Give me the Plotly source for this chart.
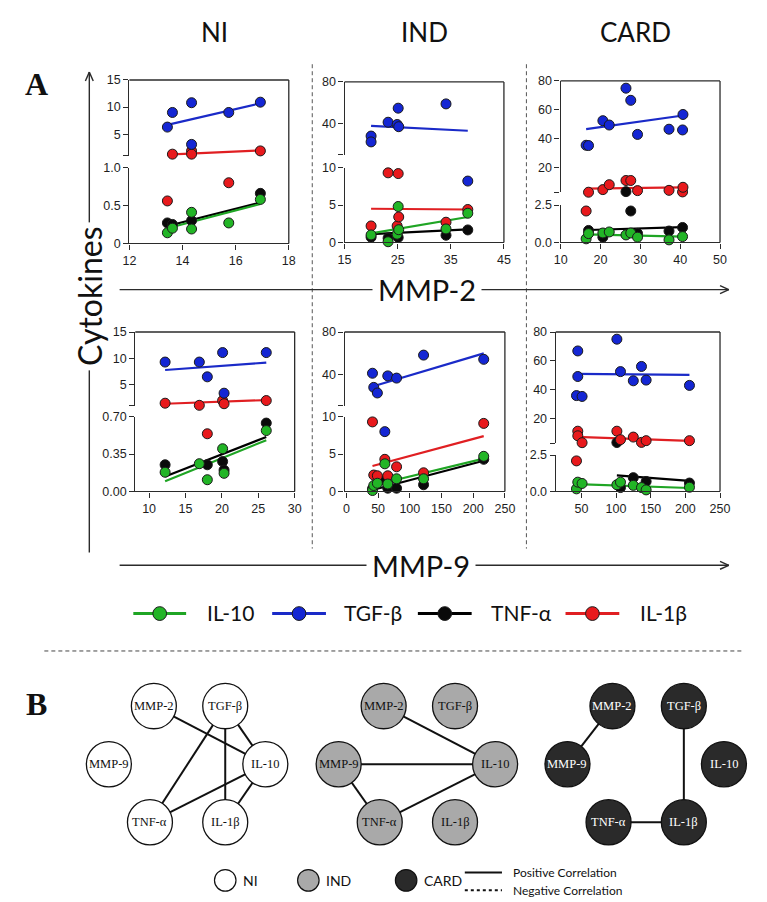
import plotly.graph_objects as go

W, H = 767, 902

# series order: IL-10, TGF-beta, TNF-alpha, IL-1beta
SERIES = ["IL-10", "TGF-β", "TNF-α", "IL-1β"]
FILL = ["#22b526", "#1426d4", "#0a0a0a", "#e8191c"]
LINE = ["#1fa524", "#1a2ac8", "#000000", "#e01f22"]

# NI vs MMP-2
ni_mmp2 = [13.43, 13.62, 14.34, 14.34, 15.74, 16.93]
ni_mmp2_il10 = [0.14, 0.20, 0.41, 0.19, 0.27, 0.58]
ni_mmp2_tgfb = [6.3, 9.0, 10.8, 3.1, 9.0, 10.9]
ni_mmp2_tnfa = [0.27, 0.25, 0.30, None, None, 0.66]
ni_mmp2_il1b = [0.56, 1.3, 1.9, 1.3, 0.80, 1.9]
ni_mmp2_fits = [[0.20, 0.52], [6.7, 10.7], [0.23, 0.54], [1.2, 2.0]]

# IND vs MMP-2
ind_mmp2 = [20.0, 20.0, 23.2, 24.9, 25.1, 25.2, 34.1, 38.2]
ind_mmp2_il10 = [1.0, None, 0.09, 1.1, 4.8, 1.7, 1.8, 3.9]
ind_mmp2_tgfb = [28.0, 22.4, 41.3, 39.1, 54.8, 37.0, 58.9, 8.2]
ind_mmp2_tnfa = [0.7, None, 0.57, None, 0.66, None, 0.96, 1.67]
ind_mmp2_il1b = [2.2, None, 9.3, 2.2, 9.2, 3.4, 2.7, 4.4]
ind_mmp2_fits = [[1.2, 3.4], [37.8, 33.1], [1.1, 1.75], [4.5, 4.4]]

# CARD vs MMP-2
card_mmp2 = [16.4, 17.0, 20.6, 22.2, 26.4, 27.6, 29.3, 37.2, 40.6, 40.7]
card_mmp2_il10 = [0.24, 0.59, 0.63, 0.70, 0.50, 0.63, 0.35, 0.17, 0.39, None]
card_mmp2_tgfb = [35.5, 35.3, 52.5, 49.5, 75.0, 66.6, 43.0, 46.6, 46.1, 56.8]
card_mmp2_tnfa = [None, 0.8, 0.35, None, 3.4, 2.1, 0.6, 0.76, 1.0, None]
card_mmp2_il1b = [2.1, 3.0, 4.8, 8.2, 11.1, 11.1, 4.1, 4.3, 3.2, 6.4]
card_mmp2_fits = [[0.54, 0.39], [46.6, 56.1], [0.83, 1.02], [5.5, 6.4]]

# NI vs MMP-9
ni_mmp9 = [12.2, 16.9, 18.0, 20.1, 20.3, 26.1]
ni_mmp9_il10 = [0.18, 0.26, 0.11, 0.40, 0.17, 0.57]
ni_mmp9_tgfb = [9.3, 9.3, 6.5, 11.1, 3.4, 11.1]
ni_mmp9_tnfa = [0.25, None, 0.25, 0.28, 0.20, 0.64]
ni_mmp9_il1b = [1.5, 1.1, 0.54, 2.0, 1.4, 2.0]
ni_mmp9_fits = [[0.095, 0.48], [7.8, 9.2], [0.14, 0.51], [1.4, 2.1]]

# IND vs MMP-9
ind_mmp9 = [41.1, 43.1, 48.8, 60.6, 65.2, 79.1, 121.7, 216.6]
ind_mmp9_il10 = [0.13, 0.8, 1.1, 3.7, 1.0, 1.7, 1.7, 4.7]
ind_mmp9_tgfb = [40.9, 27.5, 22.2, 8.0, 38.4, 36.3, 58.1, 54.1]
ind_mmp9_tnfa = [0.35, None, None, 1.5, 0.44, 0.44, 0.9, 4.3]
ind_mmp9_il1b = [9.3, 2.2, 2.1, 4.3, 2.1, 3.3, 2.5, 9.1]
ind_mmp9_fits = [[0.8, 4.4], [28.4, 59.7], [0.2, 4.1], [3.4, 7.4]]

# CARD vs MMP-9
card_mmp9 = [42.9, 44.8, 44.8, 51.0, 101.2, 106.4, 124.9, 136.7, 143.4, 205.9]
card_mmp9_il10 = [0.18, 0.64, None, 0.55, 0.46, 0.64, 0.42, 0.27, 0.11, 0.29]
card_mmp9_tgfb = [35.7, 66.8, 49.0, 35.1, 75.0, 52.4, 46.0, 56.0, 46.5, 42.8]
card_mmp9_tnfa = [None, None, None, None, 3.0, 0.27, 0.95, None, 0.69, 0.58]
card_mmp9_il1b = [2.1, 10.9, 7.7, 2.9, 10.9, 5.0, 6.8, 3.1, 4.3, 4.3]
card_mmp9_fits = [[0.51, 0.24], [50.8, 50.1], [1.1, 0.73], [7.0, 4.1]]

# correlation networks (all positive)
NODES = ["MMP-2", "TGF-β", "MMP-9", "IL-10", "TNF-α", "IL-1β"]
ni_edges = [("MMP-2", "IL-10"), ("TGF-β", "IL-10"), ("TGF-β", "TNF-α"),
            ("TGF-β", "IL-1β"), ("IL-10", "TNF-α"), ("IL-10", "IL-1β")]
ind_edges = [("MMP-2", "IL-10"), ("MMP-9", "IL-10"), ("MMP-9", "TNF-α"), ("TNF-α", "IL-10")]
card_edges = [("MMP-2", "MMP-9"), ("TGF-β", "IL-1β"), ("TNF-α", "IL-1β")]


# pixel boxes: (left, right, upper_top, upper_bottom, lower_top, lower_bottom)
panels = [
    dict(x=ni_mmp2, ys=[ni_mmp2_il10, ni_mmp2_tgfb, ni_mmp2_tnfa, ni_mmp2_il1b], fits=ni_mmp2_fits,
         box=(117, 280, 66, 143, 155, 232), xr=[12, 18], xt=[12, 14, 16, 18],
         lo=[0, 1.0], lot=[0, 0.5, 1.0], lol=["0.0", "0.5", "1.0"], up=[1, 15], upt=[1, 5, 10, 15]),
    dict(x=ind_mmp2, ys=[ind_mmp2_il10, ind_mmp2_tgfb, ind_mmp2_tnfa, ind_mmp2_il1b], fits=ind_mmp2_fits,
         box=(337, 500, 68, 142, 155, 231), xr=[15, 45], xt=[15, 25, 35, 45],
         lo=[0, 10], lot=[0, 5, 10], lol=["0", "5", "10"], up=[10, 80], upt=[10, 40, 80]),
    dict(x=card_mmp2, ys=[card_mmp2_il10, card_mmp2_tgfb, card_mmp2_tnfa, card_mmp2_il1b], fits=card_mmp2_fits,
         box=(558, 721, 67, 180, 193, 231), xr=[10, 50], xt=[10, 20, 30, 40, 50],
         lo=[0, 2.5], lot=[0, 2.5], lol=["0.0", "2.5"], up=[3, 80], upt=[3, 20, 40, 60, 80]),
    dict(x=ni_mmp9, ys=[ni_mmp9_il10, ni_mmp9_tgfb, ni_mmp9_tnfa, ni_mmp9_il1b], fits=ni_mmp9_fits,
         box=(123, 286, 322, 397, 408, 484), xr=[8.1, 30], xt=[10, 15, 20, 25, 30],
         lo=[0, 0.70], lot=[0, 0.35, 0.70], lol=["0.00", "0.35", "0.70"], up=[1, 15], upt=[1, 5, 10, 15]),
    dict(x=ind_mmp9, ys=[ind_mmp9_il10, ind_mmp9_tgfb, ind_mmp9_tnfa, ind_mmp9_il1b], fits=ind_mmp9_fits,
         box=(337, 501, 322, 397, 408, 484), xr=[-3, 250], xt=[0, 50, 100, 150, 200, 250],
         lo=[0, 10], lot=[0, 5, 10], lol=["0", "5", "10"], up=[10, 80], upt=[10, 40, 80]),
    dict(x=card_mmp9, ys=[card_mmp9_il10, card_mmp9_tgfb, card_mmp9_tnfa, card_mmp9_il1b], fits=card_mmp9_fits,
         box=(553, 721, 322, 435, 447, 484), xr=[13, 250], xt=[50, 100, 150, 200, 250],
         lo=[0, 2.5], lot=[0, 2.5], lol=["0.0", "2.5"], up=[2.5, 80], upt=[2.5, 20, 40, 60, 80]),
]

AX = "#2b2b2b"
TICKFONT = dict(family="Liberation Sans, Arial", size=12.5, color="#1e1e1e")


def fx(px):
    return px / W


def fy(py):
    return 1 - py / H


def aid(kind, k):
    # axis id as used by traces / anchors: "x", "x2", ...
    return kind if k == 1 else f"{kind}{k}"


fig = go.Figure()
layout = {}
shapes = []
annotations = []


def line(x0, y0, x1, y1, color=AX, width=1.3, dash=None):
    d = dict(type="line", xref="paper", yref="paper", x0=fx(x0), y0=fy(y0), x1=fx(x1), y1=fy(y1),
             line=dict(color=color, width=width))
    if dash:
        d["line"]["dash"] = dash
    shapes.append(d)


def ellipse(cx, cy, rx, ry, fill, color="#111", width=1.3):
    shapes.append(dict(type="circle", xref="paper", yref="paper", x0=fx(cx - rx), x1=fx(cx + rx),
                       y0=fy(cy + ry), y1=fy(cy - ry), fillcolor=fill, line=dict(color=color, width=width)))


def text(x, y, s, size, family="Lato", color="#111", **kw):
    kw.setdefault("xanchor", "center")
    kw.setdefault("yanchor", "middle")
    annotations.append(dict(x=fx(x), y=fy(y), xref="paper", yref="paper", text=s, showarrow=False,
                            font=dict(family=family, size=size, color=color), **kw))


for i, p in enumerate(panels):
    left, right, ut, ub, lt, lb = p["box"]
    klo, kup = 2 * i + 1, 2 * i + 2
    cut = p["lo"][1]
    base = dict(showline=True, linecolor=AX, linewidth=1.3, ticks="outside", ticklen=5, mirror=False,
                tickwidth=1.2, tickcolor=AX, tickfont=TICKFONT, showgrid=False, zeroline=False,
                tickmode="array")
    layout[aid("xaxis", klo)] = dict(base, domain=[fx(left), fx(right)], range=p["xr"],
                                     anchor=aid("y", klo), tickvals=p["xt"])
    layout[aid("yaxis", klo)] = dict(base, domain=[fy(lb), fy(lt)], range=p["lo"], anchor=aid("x", klo),
                                     tickvals=p["lot"], ticktext=p["lol"])
    layout[aid("xaxis", kup)] = dict(domain=[fx(left), fx(right)], range=p["xr"], anchor=aid("y", kup),
                                     visible=False)
    layout[aid("yaxis", kup)] = dict(base, domain=[fy(ub), fy(ut)], range=p["up"], anchor=aid("x", kup),
                                     tickvals=p["upt"], ticktext=[""] + [str(v) for v in p["upt"][1:]])
    # frame: top and right edge
    line(left, ut, right, ut)
    line(right, ut, right, lb)

    order = [2, 3, 1, 0]
    # trend lines
    for s in order:
        xs = [x for x, y in zip(p["x"], p["ys"][s]) if y is not None]
        f0, f1 = p["fits"][s]
        k = kup if min(f0, f1) > cut else klo
        fig.add_trace(go.Scatter(x=[min(xs), max(xs)], y=[f0, f1], mode="lines",
                                 line=dict(color=LINE[s], width=2.2),
                                 xaxis=aid("x", k), yaxis=aid("y", k), hoverinfo="skip"))
    # points
    for s in order:
        for k, upper in ((klo, False), (kup, True)):
            px = [x for x, y in zip(p["x"], p["ys"][s]) if y is not None and (y > cut) == upper]
            py = [y for y in p["ys"][s] if y is not None and (y > cut) == upper]
            if not px:
                continue
            fig.add_trace(go.Scatter(x=px, y=py, mode="markers", cliponaxis=False,
                                     marker=dict(size=10, color=FILL[s], line=dict(color="#1a1a1a", width=1)),
                                     xaxis=aid("x", k), yaxis=aid("y", k), hoverinfo="skip"))

# headers and labels
text(204, 17, "NI", 26)
text(419, 17, "IND", 26)
text(635, 17, "CARD", 26)
text(22, 70, "<b>A</b>", 32, family="Liberation Serif, Times New Roman")
text(22, 700, "<b>B</b>", 32, family="Liberation Serif, Times New Roman")

# separators
line(304, 50, 304, 542, color="#555", width=1, dash="4px,3px")
line(523, 50, 523, 542, color="#555", width=1, dash="4px,3px")
line(30, 646, 743, 646, color="#444", width=1, dash="4px,3px")

# axis arrows
line(76, 546, 76, 58, width=1.4)
line(76, 58, 72, 67, width=1.4)
line(76, 58, 80, 67, width=1.4)
for yy in (279, 559):
    line(107, yy, 730, yy, width=1.4)
    line(730, yy, 721, yy - 4, width=1.4)
    line(730, yy, 721, yy + 4, width=1.4)
text(76, 286, "Cytokines", 32, textangle=-90, bgcolor="white", borderpad=4)
text(421, 279, "MMP-2", 29, bgcolor="white", borderpad=5)
text(415, 559, "MMP-9", 29, bgcolor="white", borderpad=5)

# legend of panel A
leg_x = [(121, 175, 194), (263, 318, 334), (412, 467, 485), (563, 618, 637)]
for s, (a, b, t) in enumerate(leg_x):
    line(a, 608, b, 608, color=LINE[s], width=3)
    ellipse((a + b) / 2, 608, 7, 7, FILL[s], color="#1a1a1a", width=1)
    text(t, 607, SERIES[s], 21, xanchor="left")

# networks of panel B
offs = {"MMP-2": (0, 0), "TGF-β": (73, 0), "MMP-9": (-46, 59), "IL-10": (114, 59),
        "TNF-α": (-4, 118), "IL-1β": (73, 118)}
groups = [((142, 702), ni_edges, "white", "#111"),
          ((377, 702), ind_edges, "#a9a9a9", "#111"),
          ((611, 702), card_edges, "#2a2a2a", "white")]
for (ox, oy), edges, fill, tcol in groups:
    pos = {n: (ox + offs[n][0], oy + offs[n][1]) for n in NODES}
    for a, b in edges:
        line(pos[a][0], pos[a][1], pos[b][0], pos[b][1], color="#111", width=2)
    for n in NODES:
        cx, cy = pos[n]
        ellipse(cx, cy, 23, 23, fill)
        text(cx, cy, n, 12.5, family="Liberation Serif, Times New Roman", color=tcol)

# legend of panel B
for cx, fill, lab in ((215, "white", "NI"), (300, "#a9a9a9", "IND"), (400, "#2a2a2a", "CARD")):
    ellipse(cx, 879, 11, 11, fill, width=1.2)
    text(cx + 16, 879, lab, 14, xanchor="left")
line(460, 871, 498, 871, color="#111", width=2)
line(460, 889, 498, 889, color="#111", width=2, dash="dot")
text(507, 871, "Positive Correlation", 12, xanchor="left")
text(507, 889, "Negative Correlation", 12, xanchor="left")

fig.update_layout(width=W, height=H, margin=dict(l=0, r=0, t=0, b=0), showlegend=False,
                  paper_bgcolor="white", plot_bgcolor="white",
                  shapes=shapes, annotations=annotations, **layout)
fig.write_html("out.html")
